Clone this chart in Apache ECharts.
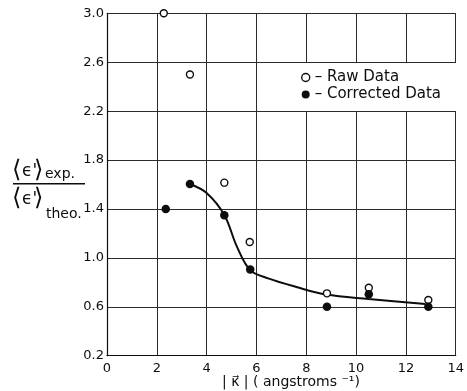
<!DOCTYPE html>
<html>
<head>
<meta charset="utf-8">
<script src="https://cdn.jsdelivr.net/npm/echarts@6/dist/echarts.min.js"></script>
<style>html,body{margin:0;padding:0;background:#fff;}#c{width:467px;height:391px;}</style>
</head>
<body>
<div id="c"></div>
<script>
const rawX = [2.28, 3.33, 4.71, 5.73, 8.83, 10.51, 12.9];
const rawY = [3.0, 2.50, 1.615, 1.13, 0.71, 0.756, 0.656];
const corX = [2.36, 3.33, 4.71, 5.75, 8.83, 10.51, 12.9];
const corY = [1.40, 1.604, 1.348, 0.904, 0.601, 0.702, 0.60];
const curveX = [3.33, 4.0, 4.71, 5.22, 5.75, 6.5, 7.6, 8.8, 10.5, 12.78];
const curveY = [1.604, 1.53, 1.35, 1.09, 0.90, 0.83, 0.762, 0.70, 0.664, 0.623];
const seriesNames = ['Raw Data', 'Corrected Data'];
const xTitle = '| κ⃗ | ( angstroms ⁻¹)';

const zip = (a, b) => a.map((v, i) => [v, b[i]]);
const ink = '#0d0d0d';
const font = 'DejaVu Sans';
const t = (x, y, text, size) => ({
  type: 'text', x: x, y: y,
  style: { text: text, fontFamily: font, fontSize: size, fill: ink, align: 'left', verticalAlign: 'middle' }
});

const chart = echarts.init(document.getElementById('c'));
chart.setOption({
  backgroundColor: '#fff',
  animation: false,
  grid: { left: 107, right: 8, top: 13.3, bottom: 35.3 },
  xAxis: {
    type: 'value', min: 0, max: 14, interval: 2,
    axisLine: { show: true, lineStyle: { color: ink, width: 1.2 } },
    axisTick: { show: false },
    splitLine: { show: true, lineStyle: { color: '#2a2a2a', width: 1 } },
    axisLabel: { color: ink, fontFamily: font, fontSize: 13, margin: 6 }
  },
  yAxis: {
    type: 'value', min: 0.2, max: 3.0, interval: 0.4,
    axisLine: { show: true, lineStyle: { color: ink, width: 1.2 } },
    axisTick: { show: false },
    splitLine: { show: true, lineStyle: { color: '#2a2a2a', width: 1 } },
    axisLabel: { color: ink, fontFamily: font, fontSize: 13, margin: 3,
      formatter: v => v.toFixed(1) }
  },
  legend: {
    orient: 'vertical',
    left: 259, top: 63,
    padding: [7, 16, 9, 42],
    backgroundColor: '#fff',
    itemWidth: 8, itemHeight: 8, itemGap: 2,
    textStyle: { color: ink, fontFamily: font, fontSize: 15 },
    formatter: n => '– ' + n,
    data: [
      { name: seriesNames[0], icon: 'circle', itemStyle: { color: '#fff', borderColor: ink, borderWidth: 1.4, opacity: 1 } },
      { name: seriesNames[1], icon: 'circle', itemStyle: { color: ink, opacity: 1 } }
    ]
  },
  graphic: [
    t(12, 171, '⟨', 24), t(22, 172, 'ϵ\'', 17), t(34, 171, '⟩', 24), t(45, 174, 'exp.', 14),
    { type: 'rect', shape: { x: 13, y: 183, width: 72, height: 1.4 }, style: { fill: ink } },
    t(12, 199, '⟨', 24), t(22, 200, 'ϵ\'', 17), t(34, 199, '⟩', 24), t(46, 214, 'theo.', 14),
    t(222, 382, xTitle, 14)
  ],
  series: [
    {
      name: seriesNames[0], type: 'scatter', clip: false, z: 4,
      symbol: 'circle', symbolSize: 7,
      itemStyle: { color: '#fff', borderColor: ink, borderWidth: 1.4, opacity: 1 },
      data: zip(rawX, rawY)
    },
    {
      name: seriesNames[1], type: 'scatter', clip: false, z: 5,
      symbol: 'circle', symbolSize: 8.5,
      itemStyle: { color: ink, opacity: 1 },
      data: zip(corX, corY)
    },
    {
      name: 'curve', type: 'line', smooth: 0.35, showSymbol: false, z: 3,
      lineStyle: { color: ink, width: 2 },
      data: zip(curveX, curveY)
    }
  ]
});
</script>
</body>
</html>
